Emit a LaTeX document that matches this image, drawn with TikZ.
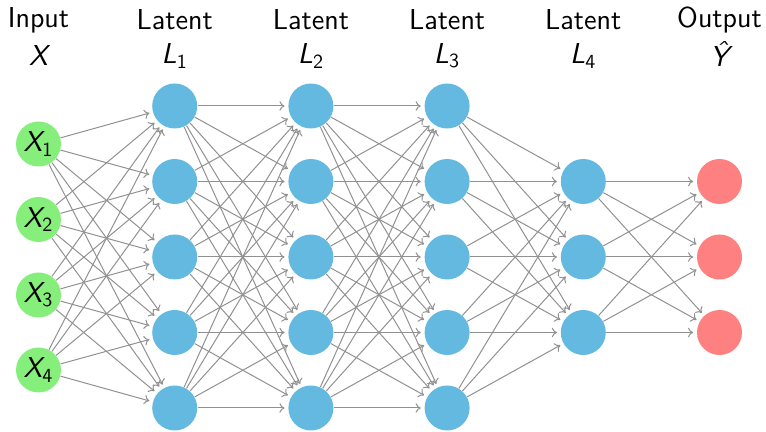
\documentclass[tikz,border=0pt]{standalone}
\usetikzlibrary{arrows.meta}
\definecolor{incol}{RGB}{134,238,122}
\definecolor{hidcol}{RGB}{100,185,225}
\definecolor{outcol}{RGB}{255,128,128}
\definecolor{edgecol}{RGB}{145,145,145}
\begin{document}
\begin{tikzpicture}[x=0.5pt,y=-0.5pt,
  neuron/.style={circle,minimum size=22.5pt,inner sep=0pt,font=\sffamily\Large\itshape},
  innode/.style={neuron,fill=incol},
  hidnode/.style={neuron,fill=hidcol},
  outnode/.style={neuron,fill=outcol},
  conn/.style={draw=edgecol,line width=0.5pt,-{To[length=2.6pt,width=4.8pt]},shorten >=1.7pt},
  head/.style={font=\sffamily\Large,align=center}]
\useasboundingbox (0,0) rectangle (766,432);
% input layer
\foreach \i/\y in {1/144,2/219.5,3/295,4/370}
  \node[innode] (I\i) at (38.5,\y) {X\textsubscript{\upshape\i}};
% hidden layers L1..L3 (five units each)
\foreach \l/\x in {1/174.7,2/310.9,3/447.1}
  \foreach \i/\y in {1/106,2/181.5,3/257,4/332.5,5/408}
    \node[hidnode] (H\l-\i) at (\x,\y) {};
% hidden layer L4 (three units)
\foreach \i/\y in {1/181.5,2/257,3/332.5}
  \node[hidnode] (H4-\i) at (583.3,\y) {};
% output layer
\foreach \i/\y in {1/181.5,2/257,3/332.5}
  \node[outnode] (O\i) at (719.5,\y) {};
% headings
\node[head] (t0) at (38.5,20) {Input};
\node[head] (u0) at (38.5,56) {\itshape X};
\foreach \l/\x in {1/174.7,2/310.9,3/447.1,4/583.3}{
  \node[head] (t\l) at (\x,20) {Latent};
  \node[head] (u\l) at (\x,56) {\itshape L\textsubscript{\upshape\l}};
}
\node[head] (t5) at (719.5,20) {Output};
\node[head] (u5) at (719.5,54) {\itshape \^{Y}};
% connections
\foreach \a in {1,...,4}
  \foreach \b in {1,...,5}
    \draw[conn] (I\a) -- (H1-\b);
\foreach \l/\m in {1/2,2/3}
  \foreach \a in {1,...,5}
    \foreach \b in {1,...,5}
      \draw[conn] (H\l-\a) -- (H\m-\b);
\foreach \a in {1,...,5}
  \foreach \b in {1,...,3}
    \draw[conn] (H3-\a) -- (H4-\b);
\foreach \a in {1,...,3}
  \foreach \b in {1,...,3}
    \draw[conn] (H4-\a) -- (O\b);
\end{tikzpicture}
\end{document}
